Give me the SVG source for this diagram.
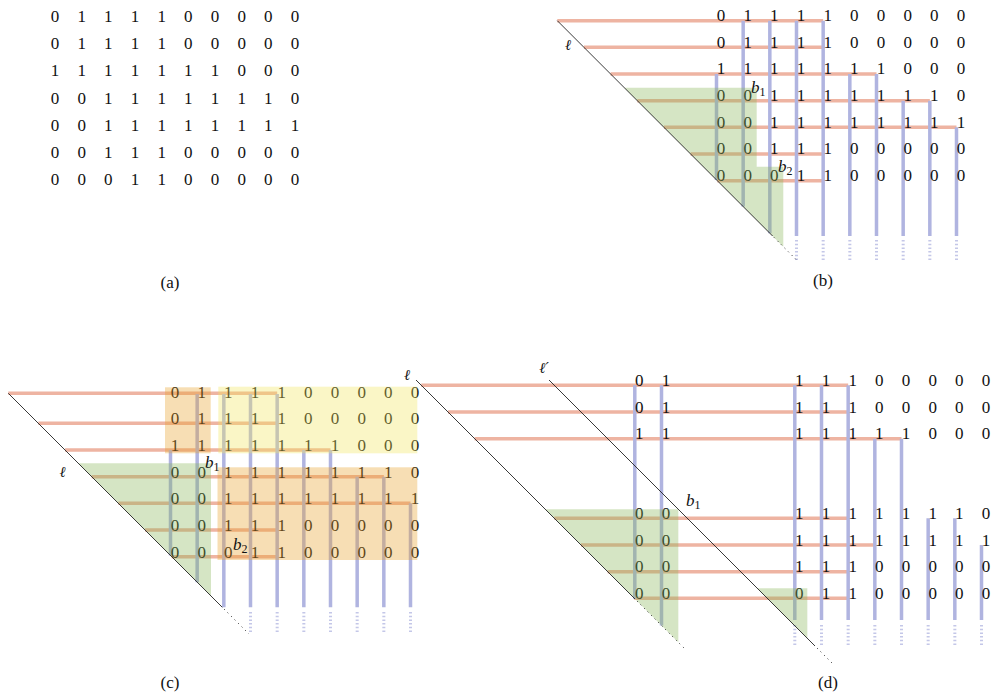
<svg xmlns="http://www.w3.org/2000/svg" width="995" height="692" viewBox="0 0 995 692">
<style>
.d{font-size:17px;text-anchor:middle;fill:#111}
.lab{font-size:17px;text-anchor:middle;fill:#111}
.it{font-size:17px;font-style:italic;fill:#111}
.sub{font-size:12px;font-style:normal}
.ell{font-style:italic;font-size:15px;text-anchor:middle;fill:#111}
.h{stroke:#eeb4a2;stroke-width:3.5;fill:none}
.v{stroke:#b0b4e0;stroke-width:3.5;fill:none}
.vd{stroke:#b0b4e0;stroke-width:3;stroke-dasharray:1.5 2.2;opacity:.75;fill:none}
.l{stroke:#222;stroke-width:.9;fill:none}
.ld{stroke:#222;stroke-width:1;stroke-dasharray:1 4;fill:none}
.g{fill:rgb(135,181,86);opacity:.35}
.y{fill:rgb(241,229,92);opacity:.35}
.o{fill:rgb(232,161,41);opacity:.35}
</style>
<rect width="995" height="692" fill="#fff"/>

<g id="panel-a" font-family="'Liberation Serif', 'DejaVu Serif', serif">
<g class="d">
<text x="55 81.67 108.33 135 161.67 188.33 215 241.67 268.33 295" y="21.6">0111100000</text>
<text x="55 81.67 108.33 135 161.67 188.33 215 241.67 268.33 295" y="48.9">0111100000</text>
<text x="55 81.67 108.33 135 161.67 188.33 215 241.67 268.33 295" y="76.2">1111111000</text>
<text x="55 81.67 108.33 135 161.67 188.33 215 241.67 268.33 295" y="103.5">0011111110</text>
<text x="55 81.67 108.33 135 161.67 188.33 215 241.67 268.33 295" y="130.8">0011111111</text>
<text x="55 81.67 108.33 135 161.67 188.33 215 241.67 268.33 295" y="158.1">0011100000</text>
<text x="55 81.67 108.33 135 161.67 188.33 215 241.67 268.33 295" y="185.4">0001100000</text>
</g>
<text class="lab" x="170" y="288">(a)</text>
</g>

<g id="panel-b" font-family="'Liberation Serif', 'DejaVu Serif', serif">
<g id="b-connectors">
<path class="h" d="M557.3 20.7H823.17M583.97 47.37H823.17M610.63 74.03H876.5M637.3 100.7H929.83M663.97 127.37H956.5M690.63 154.03H823.17M717.3 180.7H823.17"/>
<path class="v" d="M716.5 74.03V179.9M743.17 20.7V206.57M769.83 20.7V233.23M796.5 20.7V236M823.17 20.7V236M849.83 74.03V236M876.5 74.03V236M903.17 100.7V236M929.83 100.7V236M956.5 127.37V236"/>
<path class="vd" d="M796.5 240V261M823.17 240V261M849.83 240V261M876.5 240V261M903.17 240V261M929.83 240V261M956.5 240V261"/>
</g>
<g class="d">
<text x="721 747.67 774.33 801 827.67 854.33 881 907.67 934.33 961" y="21">0111100000</text>
<text x="721 747.67 774.33 801 827.67 854.33 881 907.67 934.33 961" y="47.67">0111100000</text>
<text x="721 747.67 774.33 801 827.67 854.33 881 907.67 934.33 961" y="74.33">1111111000</text>
<text x="721 747.67 774.33 801 827.67 854.33 881 907.67 934.33 961" y="101">0011111110</text>
<text x="721 747.67 774.33 801 827.67 854.33 881 907.67 934.33 961" y="127.67">0011111111</text>
<text x="721 747.67 774.33 801 827.67 854.33 881 907.67 934.33 961" y="154.33">0011100000</text>
<text x="721 747.67 774.33 801 827.67 854.33 881 907.67 934.33 961" y="181">0001100000</text>
</g>
<path class="g" d="M624.3 87.7H756.7V166.7H783.3V246.7Z"/>
<path class="l" d="M557.3 20.7L772.6 236"/>
<path class="ld" d="M774 237.4L798 261.4"/>
<text class="ell" x="568" y="50" font-family="'DejaVu Serif', serif">ℓ</text>
<text class="it" x="751" y="93">b<tspan class="sub" dy="3">1</tspan></text>
<text class="it" x="778" y="171.5">b<tspan class="sub" dy="3">2</tspan></text>
<text class="lab" x="823" y="286">(b)</text>
</g>

<g id="panel-c" font-family="'Liberation Serif', 'DejaVu Serif', serif">
<g id="c-connectors">
<path class="h" d="M8.3 393.3H277.17M38.37 423.37H277.17M65.03 450.03H330.5M91.7 476.7H383.83M118.37 503.37H410.5M145.03 530.03H277.17M171.7 556.7H277.17"/>
<path class="v" d="M170.5 450.03V555.5M197.17 394V582.17M223.83 394V607.3M250.5 394V607.3M277.17 394V607.3M303.83 450.03V607.3M330.5 450.03V607.3M357.17 476.7V607.3M383.83 476.7V607.3M410.5 503.37V607.3"/>
<path class="vd" d="M250.5 612V634M277.17 612V634M303.83 612V634M330.5 612V634M357.17 612V634M383.83 612V634M410.5 612V634"/>
</g>
<g class="d">
<text x="175 201.67 228.33 255 281.67 308.33 335 361.67 388.33 415" y="397.5">0111100000</text>
<text x="175 201.67 228.33 255 281.67 308.33 335 361.67 388.33 415" y="424.17">0111100000</text>
<text x="175 201.67 228.33 255 281.67 308.33 335 361.67 388.33 415" y="450.83">1111111000</text>
<text x="175 201.67 228.33 255 281.67 308.33 335 361.67 388.33 415" y="477.5">0011111110</text>
<text x="175 201.67 228.33 255 281.67 308.33 335 361.67 388.33 415" y="504.17">0011111111</text>
<text x="175 201.67 228.33 255 281.67 308.33 335 361.67 388.33 415" y="530.83">0011100000</text>
<text x="175 201.67 228.33 255 281.67 308.33 335 361.67 388.33 415" y="557.5">0001100000</text>
</g>
<rect class="o" x="165" y="387.3" width="45.7" height="66"/>
<rect class="y" x="218.3" y="386.7" width="199" height="66.6"/>
<rect class="o" x="217.5" y="467.3" width="199.8" height="92.7"/>
<path class="g" d="M78.3 463.3H211V596.3Z"/>
<path class="l" d="M8.3 393.3L222.3 607.3"/>
<path class="ld" d="M224 609L249 634"/>
<text class="ell" x="62.5" y="477" font-family="'DejaVu Serif', serif">ℓ</text>
<text class="it" x="205" y="468">b<tspan class="sub" dy="3">1</tspan></text>
<text class="it" x="233" y="550">b<tspan class="sub" dy="3">2</tspan></text>
<text class="lab" x="170" y="688">(c)</text>
</g>

<g id="panel-d" font-family="'Liberation Serif', 'DejaVu Serif', serif">
<g id="d-connectors">
<path class="h" d="M421.3 385.3H848.17M447.97 411.97H848.17M474.63 438.63H901.5M554.3 518.3H848.17M580.97 544.97H874.83M607.63 571.63H848.17M634.3 598.3H848.17"/>
<path class="v" d="M634.8 385.3V598.8M661.5 385.3V625.5M794.8 385.3V620M821.5 385.3V620M848.17 385.3V620M874.83 438.63V620M901.5 438.63V620M928.17 518.3V620M954.83 518.3V620M981.5 544.97V620"/>
<path class="vd" d="M794.8 625V647M821.5 625V647M848.17 625V647M874.83 625V647M901.5 625V647M928.17 625V647M954.83 625V647M981.5 625V647"/>
</g>
<g class="d">
<text x="639.3 666 799.3 826 852.67 879.33 906 932.67 959.33 986" y="385.8">0111100000</text>
<text x="639.3 666 799.3 826 852.67 879.33 906 932.67 959.33 986" y="412.5">0111100000</text>
<text x="639.3 666 799.3 826 852.67 879.33 906 932.67 959.33 986" y="439.1">1111111000</text>
<text x="639.3 666 799.3 826 852.67 879.33 906 932.67 959.33 986" y="519">0011111110</text>
<text x="639.3 666 799.3 826 852.67 879.33 906 932.67 959.33 986" y="545.7">0011111111</text>
<text x="639.3 666 799.3 826 852.67 879.33 906 932.67 959.33 986" y="572.3">0011100000</text>
<text x="639.3 666 799.3 826 852.67 879.33 906 932.67 959.33 986" y="599">0001100000</text>
</g>
<path class="g" d="M545.3 509.3H678.3V642.3Z"/>
<path class="g" d="M757.3 588.3H807.3V638.3Z"/>
<path class="l" d="M416 380L635 599"/>
<path class="ld" d="M637 601L684 648"/>
<path class="l" d="M549 380L815 646"/>
<path class="ld" d="M817 648L834 665"/>
<text class="ell" x="407" y="380" font-family="'DejaVu Serif', serif">ℓ</text>
<text class="ell" x="544" y="373" font-family="'DejaVu Serif', serif">ℓ′</text>
<text class="it" x="686" y="506">b<tspan class="sub" dy="3">1</tspan></text>
<text class="lab" x="828" y="688">(d)</text>
</g>
</svg>
